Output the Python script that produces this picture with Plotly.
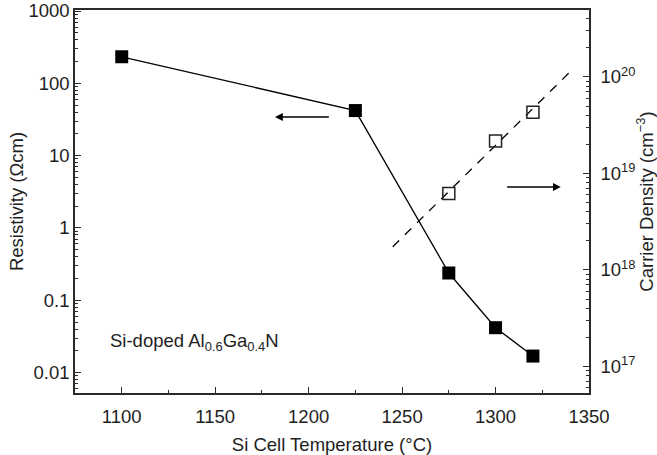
import plotly.graph_objects as go

# Resistivity data (left axis)
temp_res = [1100, 1225, 1275, 1300, 1320]
resistivity = [233, 42, 0.238, 0.0417, 0.0169]

# Carrier density data (right axis)
temp_n = [1275, 1300, 1320]
carrier = [6.2e18, 2.17e19, 4.3e19]

# Fit line for carrier density
fit_temp = [1245, 1342]
fit_carrier = [1.74e18, 1.24e20]

left_ticks = [0.01, 0.1, 1, 10, 100, 1000]
left_ticktext = ["0.01", "0.1", "1", "10", "100", "1000"]
right_ticks = [1e17, 1e18, 1e19, 1e20]
right_ticktext = ["10<sup>17</sup>", "10<sup>18</sup>", "10<sup>19</sup>", "10<sup>20</sup>"]
x_ticks = [1100, 1150, 1200, 1250, 1300, 1350]

# minor tick positions (2..9 within each decade)
left_minor = [k * 10.0 ** d for d in range(-3, 3) for k in range(2, 10)]
right_minor = [k * 10.0 ** d for d in range(16, 21) for k in range(2, 10)]

FONT = "Liberation Sans, Arial, Helvetica, sans-serif"
INK = "#1e1e1e"
AX = "#2b2b2b"
FS = 18.5
LEFT_RANGE = [-2.283, 3.014]
RIGHT_RANGE = [16.725, 20.694]

fig = go.Figure()
fig.add_trace(go.Scatter(
    x=temp_res, y=resistivity, mode="lines+markers",
    line=dict(color="black", width=1.3),
    marker=dict(symbol="square", size=13, color="black"),
    yaxis="y", showlegend=False))
fig.add_trace(go.Scatter(
    x=fit_temp, y=fit_carrier, mode="lines",
    line=dict(color="black", width=1.3, dash="9px,8px"),
    yaxis="y2", showlegend=False))
fig.add_trace(go.Scatter(
    x=temp_n, y=carrier, mode="markers",
    marker=dict(symbol="square-open", size=12, color="#222", line=dict(width=1.5)),
    yaxis="y2", showlegend=False))

fig.add_annotation(x=1182, y=1.534, ax=1211.6, ay=1.534, xref="x", yref="y",
                   axref="x", ayref="y", showarrow=True, arrowhead=2,
                   arrowsize=1.2, arrowwidth=1.3, arrowcolor="black", text="")
fig.add_annotation(x=1334.9, y=18.86, ax=1305.4, ay=18.86, xref="x", yref="y2",
                   axref="x", ayref="y2", showarrow=True, arrowhead=2,
                   arrowsize=1.2, arrowwidth=1.3, arrowcolor="black", text="")
fig.add_annotation(x=1092.7, y=-1.578, xref="x", yref="y", xanchor="left",
                   yanchor="middle", showarrow=False,
                   text="Si-doped Al<sub>0.6</sub>Ga<sub>0.4</sub>N",
                   font=dict(family=FONT, size=FS, color=INK))

fig.update_layout(
    width=657, height=455,
    margin=dict(l=75, r=68, t=10, b=62),
    paper_bgcolor="white", plot_bgcolor="rgba(0,0,0,0)",
    font=dict(family=FONT, size=FS, color=INK),
    xaxis=dict(
        range=[1075, 1350], tickvals=x_ticks, ticks="inside", ticklen=6,
        tickwidth=1.2, tickcolor=AX, showline=True, linecolor=AX, linewidth=1.5,
        mirror=True, showgrid=False, zeroline=False, ticklabelstandoff=6,
        automargin=False,
        minor=dict(ticks="inside", ticklen=3, dtick=25, tickcolor=AX, showgrid=False),
        title=dict(text="Si Cell Temperature (°C)", font=dict(size=FS), standoff=16),
    ),
    yaxis=dict(
        type="log", range=LEFT_RANGE, tickvals=left_ticks, ticktext=left_ticktext,
        ticks="inside", ticklen=6, tickwidth=1.2, tickcolor=AX, showline=True,
        linecolor=AX, linewidth=1.5, showgrid=False, zeroline=False,
        automargin=False, layer="above traces",
        minor=dict(ticks="inside", ticklen=3, tickvals=left_minor, tickcolor=AX,
                   tickwidth=1, showgrid=False),
        title=dict(text="Resistivity (Ωcm)", font=dict(size=FS), standoff=0),
    ),
    yaxis2=dict(
        type="log", range=RIGHT_RANGE, overlaying="y", side="right", anchor="x",
        tickvals=right_ticks, ticktext=right_ticktext,
        ticks="inside", ticklen=6, tickwidth=1.2, tickcolor=AX, showline=True,
        linecolor=AX, linewidth=1.5, showgrid=False, zeroline=False,
        ticklabelstandoff=6, automargin=False, layer="above traces",
        minor=dict(ticks="inside", ticklen=3, tickvals=right_minor, tickcolor=AX,
                   tickwidth=1, showgrid=False),
        title=dict(text="Carrier Density (cm<sup>−3</sup>)", font=dict(size=FS), standoff=8),
    ),
)

fig.write_html("out.html")
